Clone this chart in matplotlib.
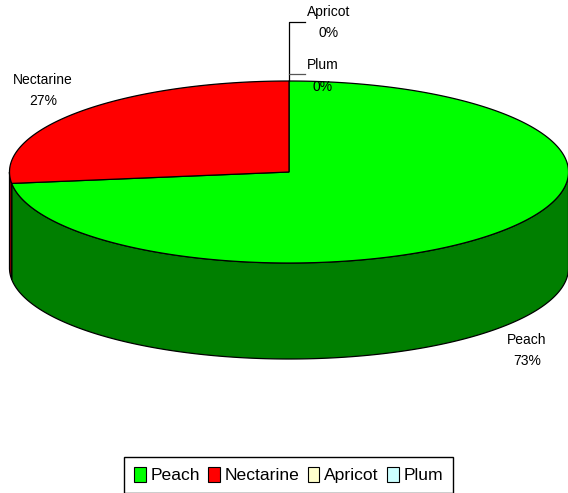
import numpy as np
import matplotlib
matplotlib.use("Agg")
import matplotlib.pyplot as plt
from matplotlib.patches import Patch

plt.rcParams['font.family'] = ['Liberation Sans', 'DejaVu Sans']

# Chart data
categories = ['Peach', 'Nectarine', 'Apricot', 'Plum']
values = [73, 27, 0, 0]
percent_labels = ['73%', '27%', '0%', '0%']
top_colors = ['#00ff00', '#ff0000', '#ffffcc', '#ccffff']
side_colors = ['#007f00', '#7f0000', '#7f7f66', '#667f7f']

# Pie geometry in pixels
cx = 289
cy = 172
rx = 279.5
ry = 91
depth = 96


def ellipse_xy(theta):
    # theta is clockwise from 12 o'clock, in radians
    return cx + rx * np.sin(theta), cy - ry * np.cos(theta)


fig = plt.figure(figsize=(5.68, 4.93), dpi=100)
ax = fig.add_axes([0, 0, 1, 1])
ax.set_xlim(0, 568)
ax.set_ylim(493, 0)
ax.axis('off')

edges = 2 * np.pi * np.cumsum([0] + values) / sum(values)

# Side wall, only the part facing the viewer (pi/2 .. 3pi/2)
for i in range(len(values)):
    start = max(edges[i], np.pi / 2)
    end = min(edges[i + 1], 3 * np.pi / 2)
    if end <= start:
        continue
    t = np.linspace(start, end, 300)
    x, y = ellipse_xy(t)
    ax.fill(np.r_[x, x[::-1]], np.r_[y, y[::-1] + depth],
            facecolor=side_colors[i], edgecolor='black', lw=0.9, zorder=2)

# Top face
for i in range(len(values)):
    if values[i] == 0:
        continue
    t = np.linspace(edges[i], edges[i + 1], 500)
    x, y = ellipse_xy(t)
    ax.fill(np.r_[cx, x], np.r_[cy, y],
            facecolor=top_colors[i], edgecolor='black', lw=0.9, zorder=3)

# Leader lines for the empty slices
top_y = cy - ry
ax.plot([cx, cx, 305], [top_y, 22, 22], color='black', lw=0.9, zorder=4)
ax.plot([cx, 305], [74, 74], color='#555555', lw=0.9, zorder=4)

# Data labels
label_x = [527, 43, 329, 323]
name_y = [340, 80, 12, 65]
pct_y = [361, 101, 33, 87]
for i in range(len(categories)):
    ax.text(label_x[i], name_y[i], categories[i], ha='center', va='center',
            fontsize=10, color='black', zorder=5)
    ax.text(label_x[i], pct_y[i], percent_labels[i], ha='center', va='center',
            fontsize=10, color='black', zorder=5)

handles = [Patch(facecolor=top_colors[i], edgecolor='black', lw=0.8, label=categories[i])
           for i in range(len(categories))]
ax.legend(handles=handles, ncol=4, loc='center', bbox_to_anchor=(288.5, 475),
          bbox_transform=ax.transData, fontsize=12.6, frameon=True, fancybox=False,
          edgecolor='black', framealpha=1, handlelength=0.68, handleheight=0.95,
          handletextpad=0.28, columnspacing=0.45, borderpad=0.55, borderaxespad=0)

fig.savefig('out.png', dpi=100)
